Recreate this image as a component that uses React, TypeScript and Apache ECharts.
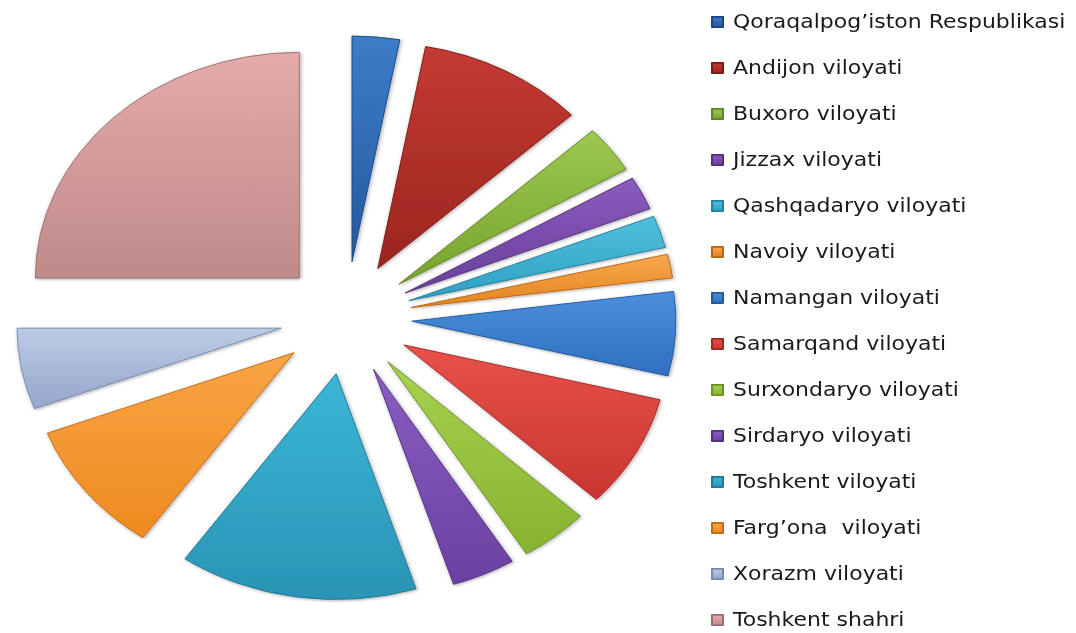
import React, { useEffect, useRef } from "react";
import * as echarts from "echarts";

const categories: string[] = [
  "Qoraqalpog’iston Respublikasi",
  "Andijon viloyati",
  "Buxoro viloyati",
  "Jizzax viloyati",
  "Qashqadaryo viloyati",
  "Navoiy viloyati",
  "Namangan viloyati",
  "Samarqand viloyati",
  "Surxondaryo viloyati",
  "Sirdaryo viloyati",
  "Toshkent viloyati",
  "Farg’ona  viloyati",
  "Xorazm viloyati",
  "Toshkent shahri",
];

const values: number[] = [2.9, 10.2, 3.4, 2.4, 2.3, 1.7, 6.0, 8.1, 4.2, 3.9, 14.6, 9.5, 5.8, 25.0];

const lightColors: string[] = [
  "#3d7cc9", "#c43a33", "#9cc850", "#8a5cbc", "#4fc0de", "#f8a850", "#4a8fdc",
  "#e8524a", "#a8d250", "#8a5ec2", "#3ab6d6", "#f9a445", "#bccbe6", "#e6aaaa",
];
const darkColors: string[] = [
  "#24599f", "#9c2520", "#78a42e", "#6a3e9c", "#2f9fc2", "#e4841e", "#2f6fc0",
  "#c83530", "#86b330", "#6a40a0", "#2a94b6", "#ee8a20", "#94a6ca", "#c08a8a",
];
const edgeColors: string[] = [
  "#1a4680", "#7a1a16", "#5e8222", "#52307a", "#23809c", "#b86614", "#22589a",
  "#a02824", "#6a8e24", "#52307e", "#1f7692", "#c06c14", "#7688ae", "#9a6e6e",
];

const SY = 0.855;
const W = 1076;
const H = 770;

export default function App() {
  const ref = useRef<HTMLDivElement>(null);

  useEffect(() => {
    if (!ref.current) return;
    const chart = echarts.init(ref.current, undefined, { renderer: "svg" });
    const data = categories.map((name, i) => ({
      name,
      value: values[i],
      selected: true,
      itemStyle: {
        color: {
          type: "linear",
          x: 0,
          y: 0,
          x2: 0,
          y2: 1,
          colorStops: [
            { offset: 0, color: lightColors[i] },
            { offset: 1, color: darkColors[i] },
          ],
        },
        borderColor: edgeColors[i],
        borderWidth: 1,
        shadowBlur: 4,
        shadowColor: "rgba(0,0,0,0.35)",
        shadowOffsetX: 1,
        shadowOffsetY: 1,
      },
    }));
    chart.setOption({
      animation: false,
      backgroundColor: "#ffffff",
      legend: {
        orient: "vertical",
        left: 711,
        top: 14.7,
        padding: 0,
        itemWidth: 11,
        itemHeight: 12,
        itemGap: 31.8,
        icon: "rect",
        selectedMode: false,
        data: categories,
        textStyle: {
          fontFamily: "DejaVu Sans",
          fontSize: 22,
          color: "#1a1a1a",
          padding: [0, 0, 0, 5],
        },
      },
      series: [
        {
          type: "pie",
          center: [346, 371.9],
          radius: [0, 264],
          startAngle: 90,
          clockwise: true,
          selectedMode: "multiple",
          selectedOffset: 66,
          label: { show: false },
          labelLine: { show: false },
          emphasis: { disabled: true },
          data,
        },
      ],
    });
    return () => chart.dispose();
  }, []);

  return (
    <div
      style={{
        position: "fixed",
        left: 0,
        top: 0,
        width: W,
        height: 633,
        overflow: "hidden",
        background: "#ffffff",
      }}
    >
      <div
        ref={ref}
        style={{
          width: W,
          height: H,
          transform: `scaleY(${SY})`,
          transformOrigin: "0 0",
        }}
      />
    </div>
  );
}
